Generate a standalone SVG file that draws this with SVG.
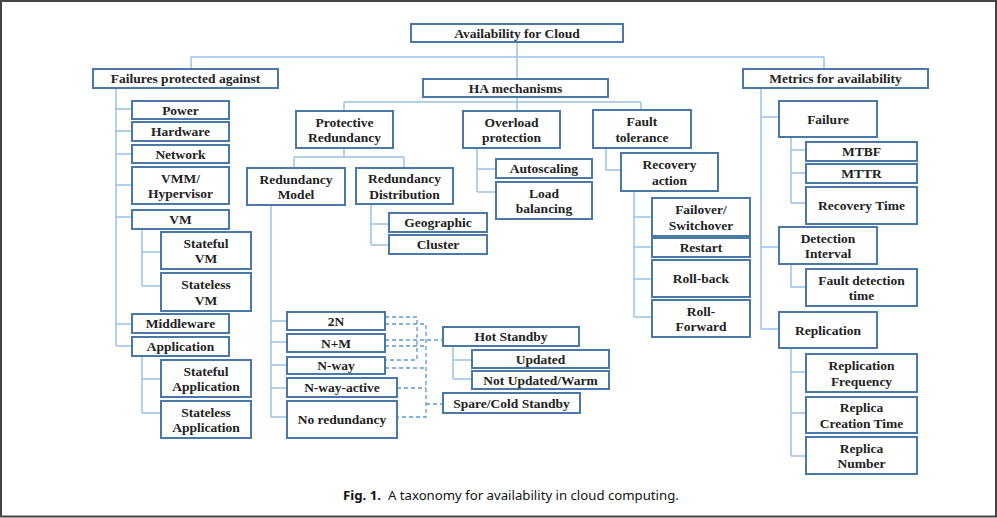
<svg xmlns="http://www.w3.org/2000/svg" width="997" height="518" viewBox="0 0 997 518">
<style>
.box{fill:#fff;stroke:#4a78a8;stroke-width:2}
.t{font-family:"Liberation Serif",serif;font-weight:bold;font-size:13.5px;fill:#222;text-anchor:middle}
.c{fill:none;stroke:#9cc2e5;stroke-width:1.5}
.d{fill:none;stroke:#5b9bd5;stroke-width:1.3;stroke-dasharray:4 3}
.cap{font-family:"Noto Sans","DejaVu Sans",sans-serif;font-size:13.2px;fill:#111}
</style>
<rect x="0" y="0" width="997" height="518" fill="#fff"/>
<rect x="1" y="1" width="995" height="515.5" fill="none" stroke="#444" stroke-width="2"/>
<g id="connectors">
<path class="c" d="M517,42V79M191,57H824M191,57V69M824,57V69"/>
<path class="c" d="M517,97V111M344,102H641M344,102V111M641,102V110"/>
<path class="c" d="M116,88V346M116,109H132M116,131H132M116,154H132M116,185H132M116,217H132M116,324H132M116,346H132"/>
<path class="c" d="M142,229V286M142,252H161M142,286H161"/>
<path class="c" d="M142,356V413M142,379H161M142,413H161"/>
<path class="c" d="M344,148V157M294,157H404M294,157V168M404,157V168"/>
<path class="c" d="M371,204V245M371,224H389M371,245H389"/>
<path class="c" d="M271,205V417M271,321H287M271,342H287M271,365H287M271,388H287M271,417H287"/>
<path class="c" d="M477,148V192M477,169H496M477,192H496"/>
<path class="c" d="M606,148V170H621"/>
<path class="c" d="M634,191V317M634,217H652M634,247H652M634,279H652M634,317H652"/>
<path class="c" d="M761,88V329M761,117H779M761,247H779M761,329H779"/>
<path class="c" d="M791,137V203M791,150H806M791,173H806M791,203H806"/>
<path class="c" d="M791,264V287H806"/>
<path class="c" d="M791,348V456M791,372H806M791,413H806M791,456H806"/>
<path class="c" d="M453,346V379M453,360H472M453,379H472"/>
<path class="d" d="M385,317H417V360H385"/>
<path class="d" d="M385,324H426V417H397"/>
<path class="d" d="M385,340H443"/>
<path class="d" d="M385,346H426M385,368H426M397,388H426M426,404H443"/>
</g>
<g id="root"><rect class="box" x="411" y="24" width="212" height="18"/><text class="t" x="517" y="37.5">Availability for Cloud</text></g>
<g id="fpa"><rect class="box" x="93" y="69" width="185" height="19"/><text class="t" x="185.5" y="83">Failures protected against</text></g>
<g id="ha"><rect class="box" x="423" y="79" width="185" height="18"/><text class="t" x="515.5" y="92.5">HA mechanisms</text></g>
<g id="mfa"><rect class="box" x="743" y="69" width="185" height="19"/><text class="t" x="835.5" y="83">Metrics for availability</text></g>
<g id="power"><rect class="box" x="132" y="101" width="97" height="18"/><text class="t" x="180.5" y="114.5">Power</text></g>
<g id="hardware"><rect class="box" x="132" y="122" width="97" height="19"/><text class="t" x="180.5" y="136">Hardware</text></g>
<g id="network"><rect class="box" x="132" y="145" width="97" height="18"/><text class="t" x="180.5" y="158.5">Network</text></g>
<g id="vmm"><rect class="box" x="132" y="167" width="97" height="37"/><text class="t" x="180.5" y="182.5">VMM/</text><text class="t" x="180.5" y="198">Hypervisor</text></g>
<g id="vm"><rect class="box" x="132" y="210" width="97" height="19"/><text class="t" x="180.5" y="224">VM</text></g>
<g id="statefulvm"><rect class="box" x="161" y="232" width="90" height="37"/><text class="t" x="206" y="247.5">Stateful</text><text class="t" x="206" y="263">VM</text></g>
<g id="statelessvm"><rect class="box" x="161" y="273" width="90" height="38"/><text class="t" x="206" y="289">Stateless</text><text class="t" x="206" y="304.5">VM</text></g>
<g id="middleware"><rect class="box" x="132" y="314" width="97" height="19"/><text class="t" x="180.5" y="328">Middleware</text></g>
<g id="application"><rect class="box" x="132" y="337" width="97" height="19"/><text class="t" x="180.5" y="351">Application</text></g>
<g id="statefulapp"><rect class="box" x="161" y="360" width="90" height="37"/><text class="t" x="206" y="375.5">Stateful</text><text class="t" x="206" y="391">Application</text></g>
<g id="statelessapp"><rect class="box" x="161" y="401" width="90" height="37"/><text class="t" x="206" y="416.5">Stateless</text><text class="t" x="206" y="432">Application</text></g>
<g id="protred"><rect class="box" x="296" y="111" width="97" height="37"/><text class="t" x="344.5" y="126.5">Protective</text><text class="t" x="344.5" y="142">Redundancy</text></g>
<g id="overload"><rect class="box" x="463" y="111" width="97" height="37"/><text class="t" x="511.5" y="126.5">Overload</text><text class="t" x="511.5" y="142">protection</text></g>
<g id="fault"><rect class="box" x="593" y="110" width="98" height="38"/><text class="t" x="642" y="126">Fault</text><text class="t" x="642" y="141.5">tolerance</text></g>
<g id="redmodel"><rect class="box" x="247" y="168" width="98" height="37"/><text class="t" x="296" y="183.5">Redundancy</text><text class="t" x="296" y="199">Model</text></g>
<g id="reddist"><rect class="box" x="356" y="168" width="97" height="36"/><text class="t" x="404.5" y="183">Redundancy</text><text class="t" x="404.5" y="198.5">Distribution</text></g>
<g id="geographic"><rect class="box" x="389" y="213" width="98" height="19"/><text class="t" x="438" y="227">Geographic</text></g>
<g id="cluster"><rect class="box" x="389" y="235" width="98" height="19"/><text class="t" x="438" y="249">Cluster</text></g>
<g id="autoscaling"><rect class="box" x="496" y="159" width="96" height="19"/><text class="t" x="544" y="173">Autoscaling</text></g>
<g id="loadbal"><rect class="box" x="496" y="182" width="96" height="37"/><text class="t" x="544" y="197.5">Load</text><text class="t" x="544" y="213">balancing</text></g>
<g id="recovery"><rect class="box" x="621" y="153" width="97" height="38"/><text class="t" x="669.5" y="169">Recovery</text><text class="t" x="669.5" y="184.5">action</text></g>
<g id="failover"><rect class="box" x="652" y="198" width="98" height="38"/><text class="t" x="701" y="214">Failover/</text><text class="t" x="701" y="229.5">Switchover</text></g>
<g id="restart"><rect class="box" x="652" y="238" width="98" height="19"/><text class="t" x="701" y="252">Restart</text></g>
<g id="rollback"><rect class="box" x="652" y="260" width="98" height="37"/><text class="t" x="701" y="283">Roll-back</text></g>
<g id="rollforward"><rect class="box" x="652" y="300" width="98" height="37"/><text class="t" x="701" y="315.5">Roll-</text><text class="t" x="701" y="331">Forward</text></g>
<g id="n2n"><rect class="box" x="287" y="312" width="98" height="18"/><text class="t" x="336" y="325.5">2N</text></g>
<g id="nm"><rect class="box" x="287" y="334" width="98" height="18"/><text class="t" x="336" y="347.5">N+M</text></g>
<g id="nway"><rect class="box" x="287" y="357" width="98" height="17"/><text class="t" x="336" y="370">N-way</text></g>
<g id="nwayactive"><rect class="box" x="287" y="378" width="110" height="19"/><text class="t" x="342" y="392">N-way-active</text></g>
<g id="noredundancy"><rect class="box" x="287" y="401" width="110" height="37"/><text class="t" x="342" y="424">No redundancy</text></g>
<g id="hot"><rect class="box" x="443" y="327" width="136" height="19"/><text class="t" x="511" y="341">Hot Standby</text></g>
<g id="updated"><rect class="box" x="472" y="350" width="137" height="18"/><text class="t" x="540.5" y="363.5">Updated</text></g>
<g id="notupdated"><rect class="box" x="472" y="371" width="137" height="18"/><text class="t" x="540.5" y="384.5">Not Updated/Warm</text></g>
<g id="spare"><rect class="box" x="443" y="393" width="137" height="20"/><text class="t" x="511.5" y="407.5">Spare/Cold Standby</text></g>
<g id="failure"><rect class="box" x="779" y="101" width="98" height="36"/><text class="t" x="828" y="123.5">Failure</text></g>
<g id="mtbf"><rect class="box" x="806" y="142" width="111" height="19"/><text class="t" x="861.5" y="156">MTBF</text></g>
<g id="mttr"><rect class="box" x="806" y="164" width="111" height="19"/><text class="t" x="861.5" y="178">MTTR</text></g>
<g id="rectime"><rect class="box" x="806" y="187" width="111" height="37"/><text class="t" x="861.5" y="210">Recovery Time</text></g>
<g id="detint"><rect class="box" x="779" y="227" width="98" height="37"/><text class="t" x="828" y="242.5">Detection</text><text class="t" x="828" y="258">Interval</text></g>
<g id="fdt"><rect class="box" x="806" y="269" width="111" height="37"/><text class="t" x="861.5" y="284.5">Fault detection</text><text class="t" x="861.5" y="300">time</text></g>
<g id="replication"><rect class="box" x="779" y="312" width="98" height="36"/><text class="t" x="828" y="334.5">Replication</text></g>
<g id="repfreq"><rect class="box" x="806" y="354" width="111" height="38"/><text class="t" x="861.5" y="370">Replication</text><text class="t" x="861.5" y="385.5">Frequency</text></g>
<g id="repcreate"><rect class="box" x="806" y="397" width="111" height="36"/><text class="t" x="861.5" y="412">Replica</text><text class="t" x="861.5" y="427.5">Creation Time</text></g>
<g id="repnum"><rect class="box" x="806" y="437" width="111" height="37"/><text class="t" x="861.5" y="452.5">Replica</text><text class="t" x="861.5" y="468">Number</text></g>
<text class="cap" x="343" y="500"><tspan font-weight="bold">Fig. 1.</tspan><tspan dx="7">A taxonomy for availability in cloud computing.</tspan></text>
</svg>
